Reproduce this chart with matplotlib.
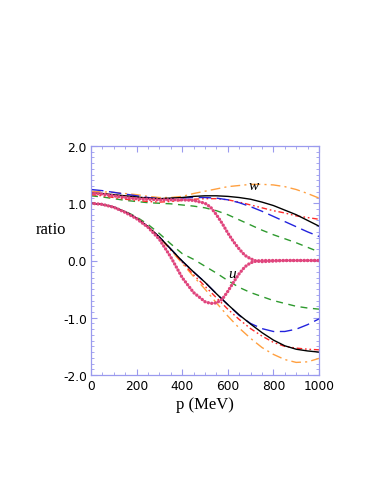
import matplotlib
matplotlib.use("Agg")
import matplotlib.pyplot as plt
from matplotlib.ticker import MultipleLocator

p = [0, 50, 100, 150, 200, 250, 300, 350, 400, 450, 500,
     550, 600, 650, 700, 750, 800, 850, 900, 950, 1000]
p_mag = [0, 50, 100, 150, 200, 250, 300, 350, 400, 450, 500, 525, 550, 575,
         600, 625, 650, 675, 700, 725, 750, 800, 850, 900, 950, 1000]

# upper (w) group
w_orange = [1.21, 1.20, 1.19, 1.17, 1.15, 1.12, 1.10, 1.10, 1.12, 1.17, 1.21,
            1.25, 1.29, 1.31, 1.33, 1.33, 1.32, 1.29, 1.24, 1.17, 1.09]
w_black = [1.18, 1.17, 1.15, 1.13, 1.11, 1.09, 1.08, 1.09, 1.10, 1.12, 1.13,
           1.13, 1.12, 1.10, 1.07, 1.02, 0.96, 0.88, 0.80, 0.70, 0.60]
w_blue = [1.24, 1.22, 1.19, 1.16, 1.13, 1.10, 1.08, 1.08, 1.09, 1.10, 1.10,
          1.09, 1.06, 1.01, 0.94, 0.86, 0.77, 0.68, 0.59, 0.50, 0.42]
w_red = [1.15, 1.13, 1.10, 1.07, 1.05, 1.03, 1.02, 1.03, 1.05, 1.07, 1.08,
         1.08, 1.06, 1.02, 0.97, 0.92, 0.87, 0.83, 0.78, 0.75, 0.72]
w_green = [1.13, 1.11, 1.08, 1.05, 1.03, 1.01, 1.00, 0.99, 0.97, 0.95, 0.92,
           0.87, 0.80, 0.71, 0.62, 0.53, 0.45, 0.38, 0.31, 0.23, 0.15]
w_magenta = [1.18, 1.16, 1.13, 1.10, 1.08, 1.07, 1.06, 1.06, 1.06, 1.05, 1.00,
             0.93, 0.80, 0.65, 0.48, 0.33, 0.20, 0.09, 0.03, -0.01, -0.02,
             -0.01, 0.0, 0.0, 0.0, 0.0]

# lower (u) group
u_black = [1.00, 0.98, 0.93, 0.85, 0.74, 0.59, 0.41, 0.20, -0.01, -0.20, -0.38,
           -0.58, -0.77, -0.95, -1.11, -1.26, -1.39, -1.49, -1.55, -1.58, -1.60]
u_orange = [1.00, 0.98, 0.93, 0.85, 0.74, 0.59, 0.40, 0.18, -0.05, -0.28, -0.50,
            -0.74, -0.97, -1.18, -1.36, -1.52, -1.64, -1.73, -1.78, -1.77, -1.71]
u_red = [1.00, 0.98, 0.93, 0.85, 0.74, 0.59, 0.41, 0.19, -0.03, -0.25, -0.45,
         -0.65, -0.85, -1.03, -1.19, -1.32, -1.43, -1.50, -1.53, -1.55, -1.56]
u_blue = [1.00, 0.98, 0.93, 0.85, 0.74, 0.59, 0.41, 0.20, -0.01, -0.20, -0.38,
          -0.58, -0.77, -0.96, -1.10, -1.19, -1.24, -1.24, -1.20, -1.12, -1.02]
u_green = [1.00, 0.98, 0.93, 0.86, 0.76, 0.63, 0.47, 0.29, 0.12, 0.02, -0.10,
           -0.22, -0.35, -0.47, -0.56, -0.63, -0.70, -0.75, -0.80, -0.83, -0.85]
u_magenta = [1.00, 0.98, 0.93, 0.84, 0.73, 0.58, 0.37, 0.06, -0.30, -0.56, -0.72,
             -0.75, -0.74, -0.68, -0.54, -0.38, -0.23, -0.11, -0.04, -0.01, 0.0,
             0.0, 0.0, 0.0, 0.0, 0.0]

x_ticks = [0, 200, 400, 600, 800, 1000]
y_ticks = [-2.0, -1.0, 0.0, 1.0, 2.0]
y_ticklabels = ["-2.0", "-1.0", "0.0", "1.0", "2.0"]

ORANGE = "#ffa040"
BLUE = "#2222dd"
RED = "#ff2a2a"
GREEN = "#2e9a2e"
MAGENTA = "#e0457d"
SPINE = "#9a9aee"

fig = plt.figure(figsize=(3.88, 5.02), dpi=100)
ax = fig.add_axes([91 / 388, 1 - 376 / 502, 228 / 388, 229 / 502])

g = globals()
for grp in ("w", "u"):
    ax.plot(p, g[grp + "_green"], color=GREEN, ls=(0, (5, 4)), lw=1.0)
    ax.plot(p, g[grp + "_orange"], color=ORANGE, ls=(0, (7, 3, 1.5, 3)), lw=1.0)
    ax.plot(p, g[grp + "_red"], color=RED, ls=(0, (4, 2, 1.2, 2, 1.2, 2)), lw=1.0)
    ax.plot(p, g[grp + "_blue"], color=BLUE, ls=(0, (9, 4)), lw=1.0)
    ax.plot(p, g[grp + "_black"], color="black", ls="-", lw=1.0)
    ax.plot(p_mag, g[grp + "_magenta"], color=MAGENTA, ls=(0, (0.05, 1.0)),
            lw=2.4, dash_capstyle="round")

ax.set_xlim(0, 1000)
ax.set_ylim(-2.0, 2.0)
ax.set_xticks(x_ticks)
ax.set_xticklabels([str(v) for v in x_ticks])
ax.set_yticks(y_ticks)
ax.set_yticklabels(y_ticklabels)
ax.xaxis.set_minor_locator(MultipleLocator(50))
ax.yaxis.set_minor_locator(MultipleLocator(0.1))
ax.tick_params(which="both", direction="in", top=True, right=True,
               color=SPINE, labelsize=8.8, pad=3)
ax.tick_params(which="major", length=4, width=0.8)
ax.tick_params(which="minor", length=2, width=0.6)
for s in ax.spines.values():
    s.set_color(SPINE)
    s.set_linewidth(0.9)
for lab in ax.get_xticklabels() + ax.get_yticklabels():
    lab.set_family("DejaVu Sans")

ax.set_xlabel("p (MeV)", family="Liberation Serif", fontsize=12, labelpad=3)
fig.text(51 / 388, 1 - 230 / 502, "ratio", family="Liberation Serif",
         fontsize=12, ha="center", va="center")

ax.text(712, 1.31, "w", family="Liberation Serif", style="italic",
        fontsize=11, ha="center", va="center")
ax.text(620, -0.22, "u", family="Liberation Serif", style="italic",
        fontsize=11, ha="center", va="center")

fig.savefig("out.png", dpi=100)
